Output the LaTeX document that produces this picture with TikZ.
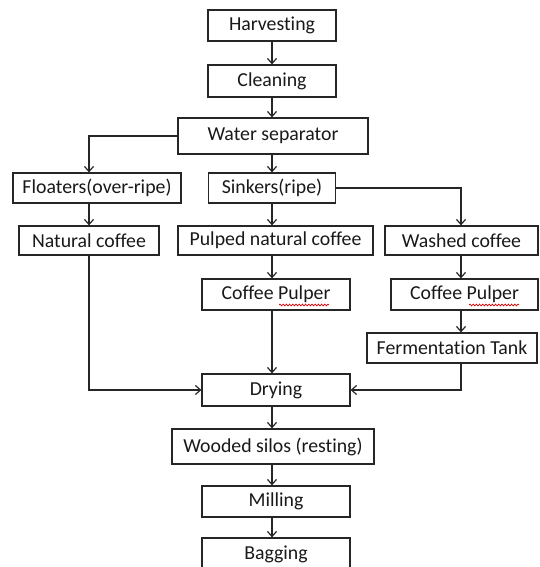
\documentclass[tikz,border=0pt]{standalone}
\usepackage{fontspec}
\setmainfont{Carlito}[Ligatures={NoCommon,NoRare,NoContextual}]
\usetikzlibrary{arrows.meta,decorations.pathmorphing}
\begin{document}
\begin{tikzpicture}[x=1pt,y=-1pt,
  box/.style={draw=black!85,line width=1.3pt,inner sep=0pt,
    font=\fontsize{19.8}{23}\selectfont,text=black!90},
  arr/.style={draw=black!85,line width=1.3pt,-{Straight Barb[length=5pt,width=9pt,line width=1.2pt]}},
  squig/.style={draw=red!85!black,line width=0.7pt,decorate,
    decoration={snake,segment length=3.2pt,amplitude=0.9pt}}]
\useasboundingbox[fill=white] (0,0) rectangle (539,567);
\coordinate (mx) at (272,0);
\coordinate (lx) at (89,0);
\coordinate (rx) at (461,0);
\node[box,minimum width=128pt,minimum height=31pt] (harv) at (272,25.5) {Harvesting};
\node[box,minimum width=128pt,minimum height=32pt] (clean) at (272,81) {Cleaning};
\node[box,minimum width=190pt,minimum height=36pt] (water) at (273,136) {Water separator};
\node[box,minimum width=168pt,minimum height=30pt] (float) at (97,188) {Floaters(over-ripe)};
\node[box,minimum width=127pt,minimum height=30pt] (sink) at (272,188) {Sinkers(ripe)};
\node[box,minimum width=140pt,minimum height=29pt] (nat) at (89,240.5) {Natural coffee};
\node[box,minimum width=195pt,minimum height=29pt] (pulp) at (275.5,240.5) {Pulped natural coffee};
\node[box,minimum width=153pt,minimum height=29pt] (wash) at (461.5,240.5) {Washed coffee};
\node[box,minimum width=148pt,minimum height=31pt] (cpa) at (276,294.5) {Coffee Pulper};
\node[box,minimum width=147pt,minimum height=31pt] (cpb) at (464.5,294.5) {Coffee Pulper};
\node[box,minimum width=170pt,minimum height=30pt] (ferm) at (452,348) {Fermentation Tank};
\node[box,minimum width=148pt,minimum height=32pt] (dry) at (276,390) {Drying};
\node[box,minimum width=202pt,minimum height=35pt] (silo) at (273,446.5) {Wooded silos (resting)};
\node[box,minimum width=148pt,minimum height=31pt] (mill) at (276,501.5) {Milling};
\node[box,minimum width=148pt,minimum height=32pt] (bag) at (276,554) {Bagging};
% spell-check squiggles
\draw[squig] ([shift={(3,10.5)}]cpa.center) -- ([shift={(53,10.5)}]cpa.center);
\draw[squig] ([shift={(4.5,10.5)}]cpb.center) -- ([shift={(54.5,10.5)}]cpb.center);
% connectors
\draw[arr] (harv.south -| mx) -- (clean.north -| mx);
\draw[arr] (clean.south -| mx) -- (water.north -| mx);
\draw[arr] (water.south -| mx) -- (sink.north -| mx);
\draw[arr] (water.west) -| (float.north -| lx);
\draw[arr] (float.south -| lx) -- (nat.north -| lx);
\draw[arr] (sink.south -| mx) -- (pulp.north -| mx);
\draw[arr] (sink.east) -| (wash.north -| rx);
\draw[arr] (pulp.south -| mx) -- (cpa.north -| mx);
\draw[arr] (wash.south -| rx) -- (cpb.north -| rx);
\draw[arr] (cpb.south -| rx) -- (ferm.north -| rx);
\draw[arr] (cpa.south -| mx) -- (dry.north -| mx);
\draw[arr] (nat.south -| lx) |- (dry.west);
\draw[arr] (ferm.south -| rx) |- (dry.east);
\draw[arr] (dry.south -| mx) -- (silo.north -| mx);
\draw[arr] (silo.south -| mx) -- (mill.north -| mx);
\draw[arr] (mill.south -| mx) -- (bag.north -| mx);
\end{tikzpicture}
\end{document}
